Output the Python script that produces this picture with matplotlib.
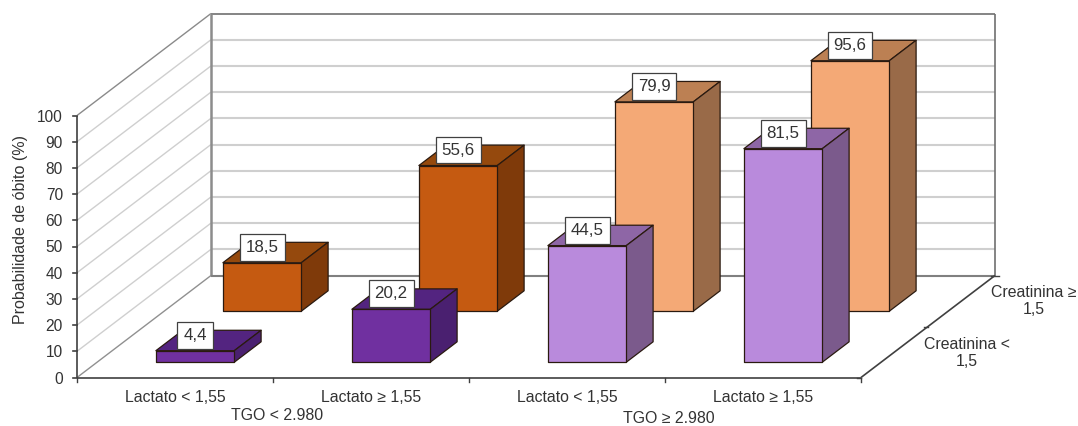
import matplotlib
matplotlib.use("Agg")
import matplotlib.pyplot as plt
from matplotlib.patches import Polygon

plt.rcParams['font.family'] = ['Liberation Sans', 'DejaVu Sans']

lactato_labels = ["Lactato < 1,55", "Lactato ≥ 1,55", "Lactato < 1,55", "Lactato ≥ 1,55"]
tgo_labels = ["TGO < 2.980", "TGO ≥ 2.980"]
creat_labels = ["Creatinina <\n1,5", "Creatinina ≥\n1,5"]
y_ticks = [0, 10, 20, 30, 40, 50, 60, 70, 80, 90, 100]
creat_lt = [4.4, 20.2, 44.5, 81.5]
creat_ge = [18.5, 55.6, 79.9, 95.6]
label_text = {4.4: "4,4", 20.2: "20,2", 44.5: "44,5", 81.5: "81,5",
              18.5: "18,5", 55.6: "55,6", 79.9: "79,9", 95.6: "95,6"}

front_pal = [("#7030A0", "#532480", "#4A2070"), ("#7030A0", "#532480", "#4A2070"),
             ("#B98ADC", "#8E66A6", "#7B5A8C"), ("#B98ADC", "#8E66A6", "#7B5A8C")]
back_pal = [("#C55A11", "#95490D", "#7F3A0A"), ("#C55A11", "#95490D", "#7F3A0A"),
            ("#F4A976", "#BC8053", "#996A48"), ("#F4A976", "#BC8053", "#996A48")]

X0, Y0 = 77.0, 377.5       # origin of the oblique projection, in pixels
DX = 196.0                 # px per category
SY = 2.62                  # px per value unit
ZX, ZY = 67.0, -51.0       # px per depth category


def P(x, z, v):
    """(category, depth, value) -> canvas position."""
    return (X0 + x * DX + z * ZX, Y0 + z * ZY - v * SY)


fig = plt.figure(figsize=(10.78, 4.26), dpi=100)
ax = fig.add_axes([0, 0, 1, 1])
ax.set_xlim(0, 1078)
ax.set_ylim(426, 0)
ax.axis("off")

NX, NZ, VMAX = len(creat_lt), len(creat_labels), y_ticks[-1]


def seg(a, b, **kw):
    ax.plot(*zip(a, b), solid_capstyle="butt", **kw)


# gridlines on both walls
for v in y_ticks[1:-1]:
    seg(P(0, 0, v), P(0, NZ, v), color="#CFCFCF", lw=1.0, zorder=1)
    seg(P(0, NZ, v), P(NX, NZ, v), color="#CFCFCF", lw=1.5, zorder=1)

# wall and floor edges
seg(P(0, 0, VMAX), P(0, NZ, VMAX), color="#8A8A8A", lw=1.0, zorder=2)
seg(P(0, NZ, VMAX), P(NX, NZ, VMAX), color="#707070", lw=1.2, zorder=2)
seg(P(0, NZ, 0), P(0, NZ, VMAX), color="#8C8C8C", lw=1.8, zorder=2)
seg(P(NX, NZ, 0), P(NX, NZ, VMAX), color="#707070", lw=1.2, zorder=2)
seg(P(0, NZ, 0), P(NX, NZ, 0), color="#808080", lw=1.5, zorder=2)
seg(P(0, 0, 0), P(0, NZ, 0), color="#909090", lw=1.0, zorder=2)

# axes
seg(P(0, 0, 0), P(0, 0, VMAX), color="#404040", lw=1.2, zorder=3)
seg(P(0, 0, 0), P(NX, 0, 0), color="#404040", lw=1.2, zorder=3)
seg(P(NX, 0, 0), P(NX, NZ, 0), color="#404040", lw=1.2, zorder=3)
for v in y_ticks:
    x, y = P(0, 0, v)
    ax.plot([x - 4, x], [y, y], color="#404040", lw=1.2, zorder=3)
    ax.text(x - 14, y, str(v), ha="right", va="center_baseline", fontsize=11.2, color="#333333")
for i in range(NX + 1):
    x, y = P(i, 0, 0)
    ax.plot([x, x], [y, y + 4], color="#404040", lw=1.0, zorder=3)
for k in range(NZ + 1):
    x, y = P(NX, k, 0)
    ax.plot([x - 4, x + 4 if k == NZ else x], [y, y], color="#404040", lw=1.0, zorder=3)


def bar(i, k, value, pal):
    x0, x1 = i + 0.3, i + 0.7
    z0, z1 = k + 0.3, k + 0.7
    front, top, side = pal
    faces = [
        ([P(x0, z0, value), P(x1, z0, value), P(x1, z1, value), P(x0, z1, value)], top),
        ([P(x1, z0, 0), P(x1, z1, 0), P(x1, z1, value), P(x1, z0, value)], side),
        ([P(x0, z0, 0), P(x1, z0, 0), P(x1, z0, value), P(x0, z0, value)], front),
    ]
    for pts, c in faces:
        ax.add_patch(Polygon(pts, closed=True, facecolor=c, edgecolor="#2A1A10",
                             lw=0.9, joinstyle="round", zorder=5 + (1 - k)))
    cx, cy = P(i + 0.5, z0, value)
    ax.text(cx, cy - 15.5, label_text[value], ha="center", va="center", fontsize=12.2,
            color="#333333", zorder=10,
            bbox=dict(boxstyle="square,pad=0.35", fc="white", ec="#404040", lw=0.9))


for i, v in enumerate(creat_ge):
    bar(i, 1, v, back_pal[i])
for i, v in enumerate(creat_lt):
    bar(i, 0, v, front_pal[i])

# category labels
for i, t in enumerate(lactato_labels):
    x, y = P(i + 0.5, 0, 0)
    ax.text(x, y + 19.5, t, ha="center", va="center", fontsize=11.4, color="#333333")
ax.text(P(1, 0, 0)[0] + 4, 415, tgo_labels[0], ha="center", va="center", fontsize=11.4, color="#333333")
ax.text(P(3, 0, 0)[0] + 4, 418.5, tgo_labels[1], ha="center", va="center", fontsize=11.4, color="#333333")
ax.text(967, 353, creat_labels[0], ha="center", va="center", fontsize=11.4, linespacing=1.2, color="#333333")
ax.text(1034, 301, creat_labels[1], ha="center", va="center", fontsize=11.4, linespacing=1.2, color="#333333")
ax.text(20.5, 229, "Probabilidade de óbito (%)", rotation=90, ha="center", va="center",
        fontsize=11.5, color="#333333")

fig.savefig("out.png", dpi=100)
